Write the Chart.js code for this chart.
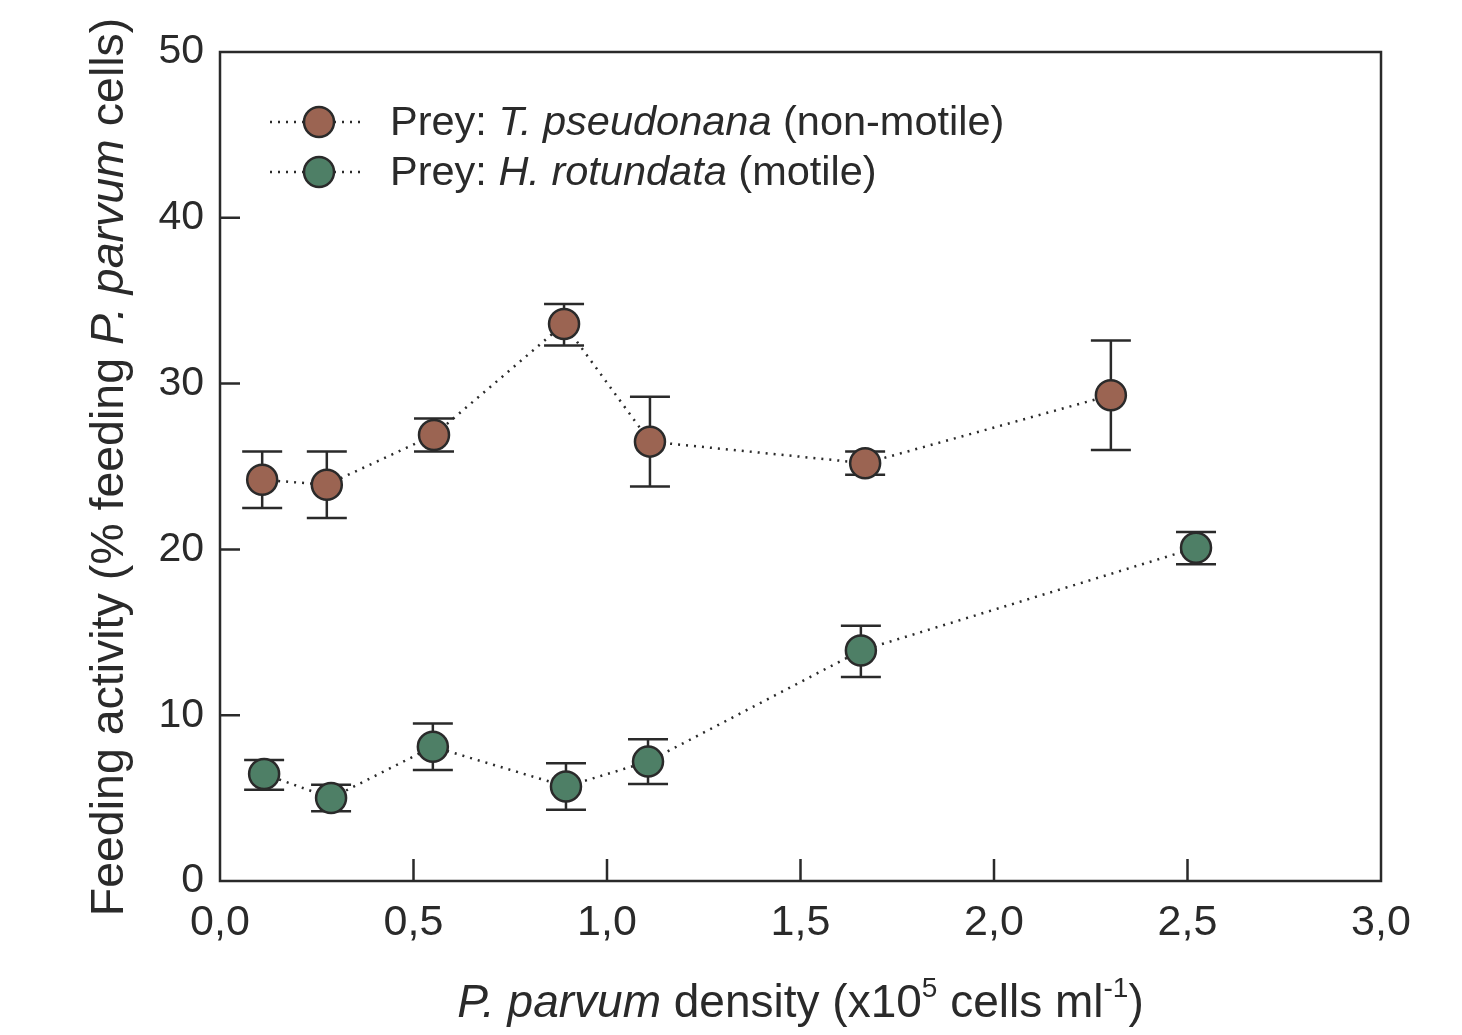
<!DOCTYPE html>
<html><head><meta charset="utf-8">
<script src="https://cdn.jsdelivr.net/npm/chart.js@4/dist/chart.umd.min.js"></script>
<style>html,body{margin:0;padding:0;background:#fff}#wrap{width:1462px;height:1035px}</style>
</head><body><div id="wrap"><canvas id="c" width="1462" height="1035"></canvas></div>
<script>
const xTicks = [0, 0.5, 1.0, 1.5, 2.0, 2.5, 3.0];
const yTicks = [0, 10, 20, 30, 40, 50];
const tpX = [0.109, 0.276, 0.553, 0.889, 1.111, 1.667, 2.302];
const tpY = [24.2, 23.9, 26.9, 33.6, 26.5, 25.2, 29.3];
const tpLo = [22.5, 21.9, 25.9, 32.3, 23.8, 24.5, 26.0];
const tpHi = [25.9, 25.9, 27.9, 34.8, 29.2, 25.9, 32.6];
const hrX = [0.114, 0.287, 0.550, 0.894, 1.106, 1.656, 2.522];
const hrY = [6.45, 5.0, 8.1, 5.7, 7.2, 13.9, 20.1];
const hrLo = [5.5, 4.2, 6.7, 4.3, 5.85, 12.3, 19.1];
const hrHi = [7.3, 5.8, 9.5, 7.1, 8.55, 15.4, 21.05];
const seriesNames = [
  [["Prey: ", false], ["T. pseudonana", true], [" (non-motile)", false]],
  [["Prey: ", false], ["H. rotundata", true], [" (motile)", false]]
];
const brown = '#9b6452', green = '#4e7f66', ink = '#2a2a2a';
const FONT = '"Liberation Sans", Arial, sans-serif';

function pts(xs, ys){ return xs.map((x,i)=>({x:x, y:ys[i]})); }

const errPlugin = {
  id: 'err',
  beforeDatasetsDraw(chart){
    const ctx = chart.ctx, xs = chart.scales.x, ys = chart.scales.y;
    const sets = [[tpX, tpLo, tpHi],[hrX, hrLo, hrHi]];
    ctx.save();
    ctx.strokeStyle = ink; ctx.lineWidth = 2.5;
    sets.forEach(([X, L, H]) => {
      X.forEach((x,i)=>{
        const px = xs.getPixelForValue(x), pl = ys.getPixelForValue(L[i]), ph = ys.getPixelForValue(H[i]);
        ctx.beginPath();
        ctx.moveTo(px, pl); ctx.lineTo(px, ph);
        ctx.moveTo(px-20, pl); ctx.lineTo(px+20, pl);
        ctx.moveTo(px-20, ph); ctx.lineTo(px+20, ph);
        ctx.stroke();
      });
    });
    ctx.restore();
  }
};

const framePlugin = {
  id: 'frame',
  afterDraw(chart){
    const ctx = chart.ctx, a = chart.chartArea, xs = chart.scales.x, ys = chart.scales.y;
    ctx.save();
    ctx.strokeStyle = ink; ctx.lineWidth = 2.5;
    ctx.strokeRect(a.left, a.top, a.right-a.left, a.bottom-a.top);
    ctx.beginPath();
    xTicks.forEach(v=>{ if(v>0 && v<3){ const p = xs.getPixelForValue(v); ctx.moveTo(p, a.bottom); ctx.lineTo(p, a.bottom-22);} });
    yTicks.forEach(v=>{ if(v>0 && v<50){ const p = ys.getPixelForValue(v); ctx.moveTo(a.left, p); ctx.lineTo(a.left+20, p);} });
    ctx.stroke();

    // legend
    const colors = [brown, green];
    const rows = [122, 172];
    rows.forEach((ry, k)=>{
      ctx.save();
      ctx.setLineDash([2,6]); ctx.lineWidth = 2.5; ctx.strokeStyle = ink;
      ctx.beginPath(); ctx.moveTo(270, ry); ctx.lineTo(365, ry); ctx.stroke();
      ctx.restore();
      ctx.beginPath(); ctx.arc(319, ry, 15, 0, Math.PI*2);
      ctx.fillStyle = colors[k]; ctx.fill();
      ctx.lineWidth = 2.5; ctx.strokeStyle = ink; ctx.stroke();
      let x = 390;
      ctx.fillStyle = ink; ctx.textBaseline = 'alphabetic'; ctx.textAlign = 'left';
      seriesNames[k].forEach(([t, it])=>{
        ctx.font = (it?'italic ':'') + '41.5px ' + FONT;
        ctx.fillText(t, x, ry+13);
        x += ctx.measureText(t).width;
      });
    });

    // x title
    const segs = [["P. parvum", 'italic', 0], [" density (x10", '', 0], ["5", 's', -20], [" cells ml", '', 0], ["-1", 's', -20], [")", '', 0]];
    function fontFor(s, size){ return s==='italic' ? 'italic '+size+'px '+FONT : (s==='s' ? Math.round(size*0.6)+'px '+FONT : size+'px '+FONT); }
    let total = 0;
    segs.forEach(([t,s])=>{ ctx.font = fontFor(s, 46); total += ctx.measureText(t).width; });
    let x = (a.left + a.right)/2 - total/2;
    ctx.fillStyle = ink; ctx.textAlign='left'; ctx.textBaseline='alphabetic';
    segs.forEach(([t,s,dy])=>{ ctx.font = fontFor(s, 46); ctx.fillText(t, x, 1017+dy); x += ctx.measureText(t).width; });

    // y title
    const ysegs = [["Feeding activity (% feeding ", ''], ["P. parvum", 'italic'], [" cells)", '']];
    ctx.save();
    ctx.translate(123, 467);
    ctx.rotate(-Math.PI/2);
    total = 0;
    ysegs.forEach(([t,s])=>{ ctx.font = fontFor(s, 46.5); total += ctx.measureText(t).width; });
    x = -total/2;
    ysegs.forEach(([t,s])=>{ ctx.font = fontFor(s, 46.5); ctx.fillText(t, x, 0); x += ctx.measureText(t).width; });
    ctx.restore();
    ctx.restore();
  }
};

new Chart(document.getElementById('c'), {
  type: 'scatter',
  data: {
    datasets: [
      { label: 'T. pseudonana', data: pts(tpX, tpY), showLine: true, borderDash: [2,6], borderColor: ink, borderWidth: 2.5,
        pointRadius: 15, pointBackgroundColor: brown, pointBorderColor: ink, pointBorderWidth: 2.5 },
      { label: 'H. rotundata', data: pts(hrX, hrY), showLine: true, borderDash: [2,6], borderColor: ink, borderWidth: 2.5,
        pointRadius: 15, pointBackgroundColor: green, pointBorderColor: ink, pointBorderWidth: 2.5 }
    ]
  },
  options: {
    responsive: false, animation: false,
    layout: { padding: { top: 52, right: 81, left: 0, bottom: 0 } },
    plugins: { legend: { display: false }, tooltip: { enabled: false } },
    scales: {
      x: { type: 'linear', min: 0, max: 3,
        afterBuildTicks(s){ s.ticks = xTicks.map(v=>({value:v})); },
        afterFit(s){ s.height = 154; },
        grid: { display: false, drawTicks: false }, border: { display: false },
        ticks: { padding: 16, color: ink, font: { family: FONT, size: 43 }, callback: v => v.toFixed(1).replace('.', ',') } },
      y: { type: 'linear', min: 0, max: 50,
        afterBuildTicks(s){ s.ticks = yTicks.map(v=>({value:v})); },
        afterFit(s){ s.width = 220; },
        grid: { display: false, drawTicks: false }, border: { display: false },
        ticks: { padding: 16, color: ink, font: { family: FONT, size: 41 }, callback: v => String(v) } }
    }
  },
  plugins: [errPlugin, framePlugin]
});
</script></body></html>
